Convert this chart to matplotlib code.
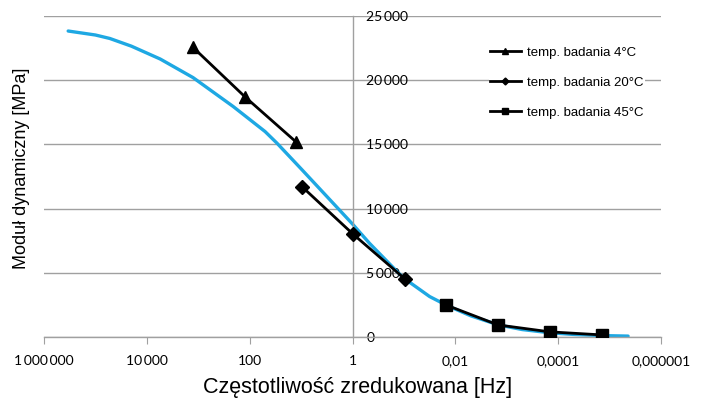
import numpy as np
from matplotlib import pyplot as plt

# reduced frequency [Hz] and dynamic modulus [MPa]
freq_master = [10**5.53, 10**5.0, 10**4.72, 10**4.3, 10**3.74, 10**3.1, 10**2.32,
               10**1.70, 10**1.47, 10**1.0, 10**0.5, 1.0, 10**-0.33, 10**-0.89,
               10**-1.02, 10**-1.5, 10**-1.84, 10**-2.3, 10**-2.83,
               10**-3.3, 10**-3.84, 10**-4.3, 10**-4.86, 10**-5.36]
mod_master = [23830, 23520, 23250, 22650, 21650, 20200, 17950,
              16000, 15100, 13100, 10950, 8800, 7300, 5000,
              4520, 3150, 2450, 1650, 950,
              580, 330, 200, 110, 70]

freq_4 = [10**3.10, 10**2.09, 10**1.10]
mod_4 = [22550, 18700, 15200]

freq_20 = [10**0.98, 1.0, 10**-1.02]
mod_20 = [11700, 8050, 4520]

freq_45 = [10**-1.82, 10**-2.83, 10**-3.84, 10**-4.86]
mod_45 = [2490, 940, 400, 160]

x_ticks = [1e6, 1e4, 1e2, 1, 1e-2, 1e-4, 1e-6]
x_labels = ["1\u2009000\u2009000", "10\u2009000", "100", "1", "0,01", "0,0001", "0,000001"]
y_ticks = [0, 5000, 10000, 15000, 20000, 25000]
y_labels = ["0", "5\u2009000", "10\u2009000", "15\u2009000", "20\u2009000", "25\u2009000"]

plt.rcParams['font.family'] = ['Liberation Sans', 'DejaVu Sans']

fig = plt.figure(figsize=(7.06, 4.05), dpi=100)
ax = fig.add_axes([44/706, 1-337/405, 617/706, 321/405])

ax.plot(freq_master, mod_master, color='#1ea8e3', lw=2.4, zorder=2,
        solid_joinstyle='round', solid_capstyle='round')
ax.plot(freq_4, mod_4, color='black', lw=2.0, marker='^', ms=9,
        label="temp. badania 4°C", zorder=3)
ax.plot(freq_20, mod_20, color='black', lw=2.0, marker='D', ms=7,
        label="temp. badania 20°C", zorder=3)
ax.plot(freq_45, mod_45, color='black', lw=2.0, marker='s', ms=9,
        label="temp. badania 45°C", zorder=3)

ax.set_xscale('log')
ax.set_xlim(1e6, 1e-6)
ax.set_ylim(0, 25000)

ax.set_xticks(x_ticks)
ax.set_xticklabels(x_labels, fontsize=10, family=['Lato', 'DejaVu Sans'])
ax.xaxis.set_minor_locator(plt.NullLocator())
ax.tick_params(axis='x', direction='out', length=5, color='#a0a0a0', pad=8)

# vertical axis crosses at 1 Hz, labels to the right of it
ax.spines['right'].set_position(('data', 1))
ax.yaxis.tick_right()
ax.set_yticks(y_ticks)
ax.set_yticklabels(y_labels, fontsize=10, family=['Lato', 'DejaVu Sans'])
ax.tick_params(axis='y', length=0, pad=10)

for s in ['left', 'top']:
    ax.spines[s].set_visible(False)
for s in ['right', 'bottom']:
    ax.spines[s].set_color('#a0a0a0')
    ax.spines[s].set_linewidth(1.0)

ax.yaxis.grid(True, color='#a0a0a0', lw=1.0)
ax.set_axisbelow(True)

fig.text(22/706, 1-168/405, "Moduł dynamiczny [MPa]", rotation=90,
         ha='center', va='center', fontsize=13)
fig.text(358/706, 1-388/405, "Częstotliwość zredukowana [Hz]",
         ha='center', va='center', fontsize=15.5)

leg = ax.legend(loc='upper left', bbox_to_anchor=(445/617, 1-29/321),
                frameon=True, fontsize=9.5, markerscale=0.5, handlelength=2.3,
                labelspacing=1.35, handletextpad=0.5, borderaxespad=0,
                borderpad=0.1)
leg.get_frame().set_edgecolor('none')
leg.get_frame().set_facecolor('white')
leg.get_frame().set_alpha(1)

fig.savefig("out.png", dpi=100)
